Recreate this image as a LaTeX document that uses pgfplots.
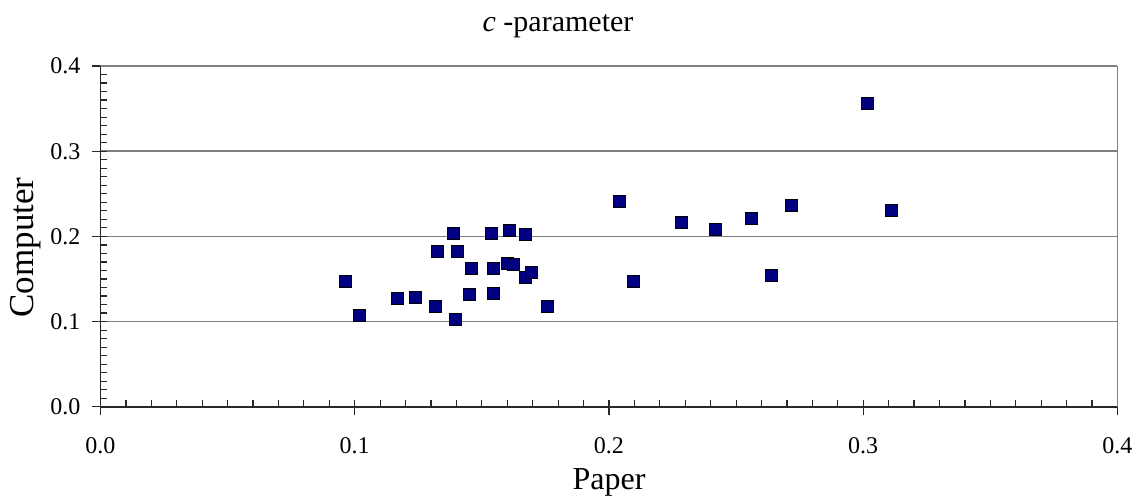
\documentclass[border=0pt]{standalone}
\usepackage{fontspec}
\setmainfont{Liberation Serif}
\usepackage{pgfplots}
\pgfplotsset{compat=1.18}
\definecolor{navyc}{RGB}{0,0,128}
\definecolor{gridc}{RGB}{128,128,128}
\definecolor{axc}{RGB}{40,40,40}
\begin{document}
\begin{tikzpicture}
\begin{axis}[
  scale only axis, width=1017pt, height=340.8pt,
  xmin=0, xmax=0.4, ymin=0, ymax=0.4,
  xtick={0,0.1,0.2,0.3,0.4}, ytick={0,0.1,0.2,0.3,0.4},
  minor x tick num=9, minor y tick num=9,
  tick pos=left, tick align=inside,
  major tick length=15pt, minor tick length=6.5pt,
  major x tick style={yshift=-8.5pt},
  major y tick style={xshift=-8.5pt},
  tick style={axc, line width=1.2pt},
  axis line style={draw=none},
  ymajorgrids, grid style={gridc, line width=1.5pt},
  xticklabel style={anchor=base, inner sep=0pt, yshift=-46.2pt},
  yticklabel style={anchor=east, inner sep=0pt, xshift=-19.8pt},
  xticklabel={\fontsize{24}{28}\selectfont\pgfmathprintnumber[fixed,fixed zerofill,precision=1,assume math mode=true]{\tick}},
  yticklabel={\fontsize{24}{28}\selectfont\pgfmathprintnumber[fixed,fixed zerofill,precision=1,assume math mode=true]{\tick}},
  scaled ticks=false,
  clip=false,
]
\addplot[only marks, mark=square*, mark size=6pt, mark options={fill=navyc, draw=none}] coordinates {
(0.0962,0.148) (0.1017,0.108) (0.1166,0.127) (0.1237,0.129) (0.1316,0.1175)
(0.1395,0.1034) (0.1324,0.1832) (0.1402,0.1832) (0.1387,0.2043) (0.1458,0.1621)
(0.1450,0.1316) (0.1536,0.2043) (0.1544,0.1621) (0.1544,0.1339) (0.1607,0.2067)
(0.1599,0.1691) (0.1623,0.1668) (0.1670,0.2020) (0.1670,0.1527) (0.1694,0.1574)
(0.1756,0.1175) (0.3015,0.3566) (0.2040,0.2419) (0.2284,0.2161) (0.2417,0.2090)
(0.2559,0.2208) (0.2716,0.2372) (0.3110,0.2302) (0.2095,0.148) (0.2638,0.155)
};
\draw[gridc, line width=1.5pt] (rel axis cs:1,0) -- (rel axis cs:1,1);
\draw[gridc, line width=1.5pt] (rel axis cs:0,1) -- (rel axis cs:1,1);
\draw[axc, line width=1.4pt] (rel axis cs:0,1) -- (rel axis cs:0,0) -- (rel axis cs:1,0);
\node[anchor=base, inner sep=0pt, font=\fontsize{30}{34}\selectfont] at (axis description cs:0.4499,1.0998) {\textit{c} -parameter};
\node[anchor=base, inner sep=0pt, font=\fontsize{32}{36}\selectfont] at (axis description cs:0.5,-0.2441) {Paper};
\node[anchor=base, inner sep=0pt, rotate=90, font=\fontsize{35}{40}\selectfont] at (axis description cs:-0.0659,0.4674) {Computer};
\path (rel axis cs:0,0) ++(-100.5pt,-94.2pt) rectangle ++(1141pt,501pt);
\end{axis}
\end{tikzpicture}
\end{document}
